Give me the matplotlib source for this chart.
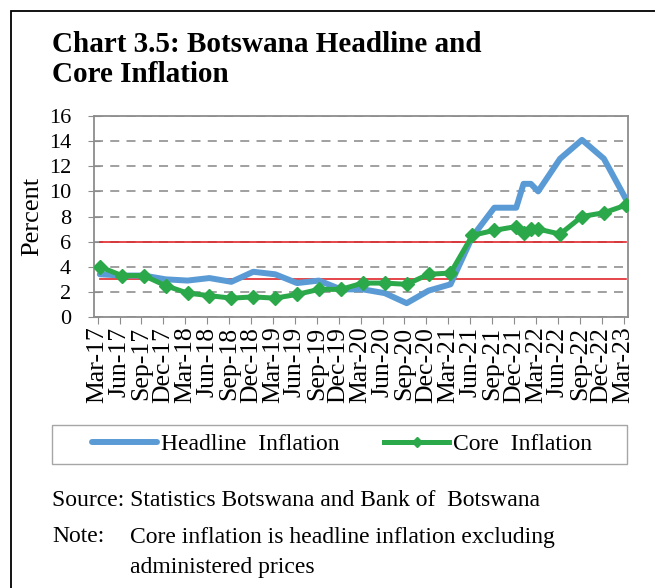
import matplotlib
matplotlib.use("Agg")
import matplotlib.pyplot as plt
from matplotlib.patches import Rectangle
from matplotlib.lines import Line2D

plt.rcParams['font.family'] = ['Liberation Serif', 'DejaVu Serif']

# months counted from Mar-17
months = [0, 3, 6, 9, 12, 15, 18, 21, 24, 27, 30, 33, 36, 39, 42, 45, 48,
          51, 54, 57, 58, 59, 60, 63, 66, 69, 72]
headline = [3.4, 3.3, 3.3, 3.0, 2.9, 3.1, 2.8, 3.6, 3.4, 2.7, 2.9, 2.2, 2.2,
            1.9, 1.1, 2.1, 2.6, 6.4, 8.7, 8.7, 10.6, 10.6, 10.0, 12.6, 14.1,
            12.6, 9.4]
core = [4.0, 3.3, 3.3, 2.5, 1.9, 1.7, 1.5, 1.6, 1.5, 1.8, 2.2, 2.2, 2.7,
        2.7, 2.6, 3.4, 3.5, 6.5, 6.9, 7.2, 6.7, 7.0, 7.0, 6.6, 8.0, 8.3, 8.9]
obj_low = 3
obj_high = 6
tick_labels = ['Mar-17', 'Jun-17', 'Sep-17', 'Dec-17', 'Mar-18', 'Jun-18',
               'Sep-18', 'Dec-18', 'Mar-19', 'Jun-19', 'Sep-19', 'Dec-19',
               'Mar-20', 'Jun-20', 'Sep-20', 'Dec-20', 'Mar-21', 'Jun-21',
               'Sep-21', 'Dec-21', 'Mar-22', 'Jun-22', 'Sep-22', 'Dec-22',
               'Mar-23']

fig = plt.figure(figsize=(6.55, 5.88), dpi=100)

# outer frame (runs off right and bottom edges)
fig.patches.append(Rectangle((11 / 655, -0.1), 1.2, 1 - 11 / 588 + 0.1,
                             transform=fig.transFigure, fill=False,
                             edgecolor='black', linewidth=1.3))

fig.text(52 / 655, 1 - 45 / 588, 'Chart 3.5: Botswana Headline and',
         fontsize=21, fontweight='bold', va='center', ha='left')
fig.text(52 / 655, 1 - 75 / 588, 'Core Inflation',
         fontsize=21, fontweight='bold', va='center', ha='left')

ax = fig.add_axes([94 / 655, 1 - 317 / 588, 534 / 655, 201 / 588])

ax.plot([months[0], months[-1]], [obj_high, obj_high], color='#E0262B',
        linewidth=1.2, zorder=2)
ax.plot([months[0], months[-1]], [obj_low, obj_low], color='#E0262B',
        linewidth=1.2, zorder=2)
ax.plot(months, headline, color='#5B9BD5', linewidth=4.3,
        solid_capstyle='round', solid_joinstyle='round', zorder=3)
ax.plot(months, core, color='#2BA84A', linewidth=3.6, marker='D',
        markersize=7.5, solid_joinstyle='round', zorder=4)

ax.set_xlim(-0.8, 72.3)
ax.set_ylim(0, 16)
ax.set_yticks(range(0, 17, 2))
ax.set_xticks([3 * i - 0.3 for i in range(len(tick_labels))])
ax.set_xticklabels(tick_labels, rotation=90, fontsize=18.5)
ax.tick_params(axis='y', labelsize=16, direction='inout', length=9,
               color='#8C8C8C', pad=12)
ax.tick_params(axis='x', direction='out', length=5, color='#8C8C8C', pad=2)
ax.yaxis.grid(True, color='#999999', linestyle=(0, (5, 4)), linewidth=1.3)
ax.set_axisbelow(True)
for s in ax.spines.values():
    s.set_color('#8C8C8C')
    s.set_linewidth(1.3)
ax.set_ylabel('Percent', fontsize=19, labelpad=4)

# legend box
fig.patches.append(Rectangle((52 / 655, 1 - 464 / 588), 575 / 655, 39 / 588,
                             transform=fig.transFigure, fill=False,
                             edgecolor='#A6A6A6', linewidth=1.0))
handles = [Line2D([], [], color='#5B9BD5', linewidth=4.3,
                  solid_capstyle='round'),
           Line2D([], [], color='#2BA84A', linewidth=3.6, marker='D',
                  markersize=5)]
fig.legend(handles, ['Headline  Inflation', 'Core  Inflation'],
           loc='center', bbox_to_anchor=(342 / 655, 1 - 444.5 / 588),
           ncol=2, fontsize=17, frameon=False, handlelength=2.75,
           columnspacing=1.9, handletextpad=0.15, borderpad=0,
           borderaxespad=0)

fig.text(52 / 655, 1 - 500 / 588,
         'Source: Statistics Botswana and Bank of  Botswana',
         fontsize=17, va='center', ha='left')
fig.text(52 / 655, 1 - 537 / 588, 'Note:', fontsize=17, va='center',
         ha='left')
fig.text(130 / 655, 1 - 537 / 588,
         'Core inflation is headline inflation excluding',
         fontsize=17, va='center', ha='left')
fig.text(130 / 655, 1 - 567 / 588, 'administered prices', fontsize=17,
         va='center', ha='left')

fig.savefig('out.png', dpi=100)
